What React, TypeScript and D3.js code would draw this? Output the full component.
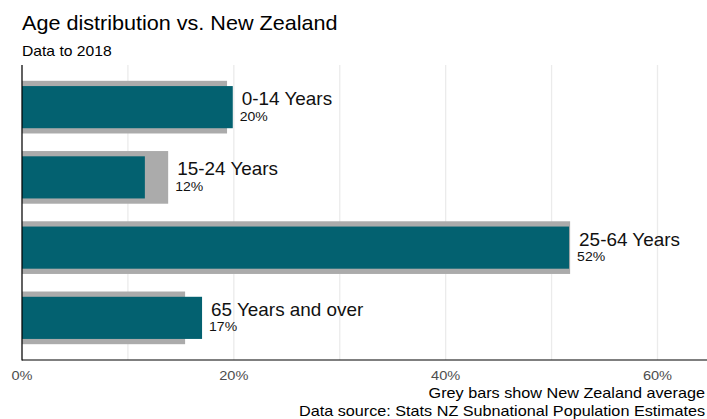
import React from "react";
import * as d3 from "d3";

const categories = ["0-14 Years", "15-24 Years", "25-64 Years", "65 Years and over"];
const regionValues = [0.199, 0.116, 0.5165, 0.17];
const nzValues = [0.1936, 0.138, 0.5175, 0.154];
const xTicks = [0, 0.2, 0.4, 0.6];
const gridTicks = [0, 0.1, 0.2, 0.3, 0.4, 0.5, 0.6];

const W = 707;
const H = 419;
const FONT = "'Liberation Sans', Arial, sans-serif";
const SX = 1.08;

type TProps = {
  x: number;
  y: number;
  size: number;
  fill?: string;
  anchor?: "start" | "middle" | "end";
  children: React.ReactNode;
};

function T({ x, y, size, fill = "#000", anchor = "start", children }: TProps) {
  return (
    <text
      transform={`translate(${x},${y}) scale(${SX},1)`}
      fontSize={size}
      fill={fill}
      textAnchor={anchor}
    >
      {children}
    </text>
  );
}

export default function App() {
  const left = 22;
  const top = 65;
  const bottom = 360;
  const x = d3.scaleLinear().domain([0, 0.6]).range([left, 657.5]);
  const y = d3.scalePoint<string>().domain(categories).range([top, bottom]).padding(0.6);
  const step = y.step();
  const fmt = d3.format(".0%");

  return (
    <svg width={W} height={H} style={{ position: "absolute", left: 0, top: 0, fontFamily: FONT }}>
      <rect width={W} height={H} fill="#ffffff" />
      {gridTicks.map((t) => (
        <line key={t} x1={x(t)} x2={x(t)} y1={top} y2={bottom} stroke="#EBEBEB" strokeWidth={1.3} />
      ))}
      {categories.map((c, i) => {
        const cy = y(c)!;
        const gh = step * 0.75;
        const th = step * 0.6;
        const mx = x(Math.max(regionValues[i], nzValues[i]));
        return (
          <g key={c}>
            <rect x={x(0)} y={cy - gh / 2} width={x(nzValues[i]) - x(0)} height={gh} fill="#ABABAB" />
            <rect x={x(0)} y={cy - th / 2} width={x(regionValues[i]) - x(0)} height={th} fill="#036170" />
            <T x={mx + 9} y={cy - 2} size={17.5} fill="#111">{c}</T>
            <T x={mx + 7} y={cy + 13.5} size={13} fill="#111">{fmt(regionValues[i])}</T>
          </g>
        );
      })}
      <line x1={left} x2={left} y1={top} y2={bottom + 0.5} stroke="#000" strokeWidth={1.2} />
      <line x1={left} x2={W} y1={bottom} y2={bottom} stroke="#000" strokeWidth={1.2} />
      {xTicks.map((t) => (
        <T key={t} x={x(t)} y={379.5} size={13.5} fill="#4D4D4D" anchor="middle">{fmt(t)}</T>
      ))}
      <T x={22} y={30} size={20}>Age distribution vs. New Zealand</T>
      <T x={22} y={56} size={14.5}>Data to 2018</T>
      <T x={705} y={398} size={15} anchor="end">Grey bars show New Zealand average</T>
      <T x={705} y={416} size={15} anchor="end">Data source: Stats NZ Subnational Population Estimates</T>
    </svg>
  );
}
